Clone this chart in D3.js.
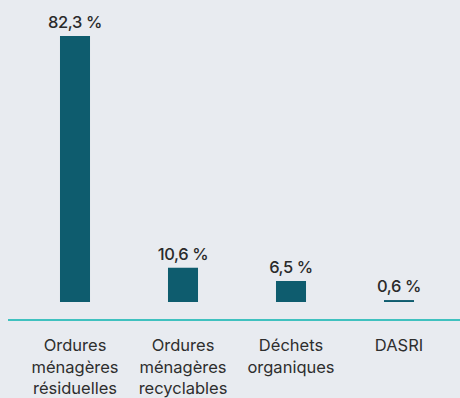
<!DOCTYPE html>
<html>
<head>
<meta charset="utf-8">
<script src="https://cdn.jsdelivr.net/npm/d3@7"></script>
<style>
  html, body { margin: 0; padding: 0; background: #e8ebf0; }
  svg { display: block; }
</style>
</head>
<body>
<svg id="chart" width="460" height="398"></svg>
<script>
// Waste categories (each label split into its display lines) and their shares in %
const categories = [
  ["Ordures", "ménagères", "résiduelles"],
  ["Ordures", "ménagères", "recyclables"],
  ["Déchets", "organiques"],
  ["DASRI"]
];
const shares = [82.3, 10.6, 6.5, 0.6];
const valueLabels = ["82,3 %", "10,6 %", "6,5 %", "0,6 %"];

const W = 460, H = 398;
const svg = d3.select("#chart");

svg.append("rect").attr("width", W).attr("height", H).attr("fill", "#e8ebf0");

const keys = categories.map((c, i) => i);
const x = d3.scaleBand()
  .domain(keys)
  .range([21, 453])
  .paddingInner(0.722)
  .paddingOuter(0.361);

const y = d3.scaleLinear()
  .domain([0, 82.3])
  .range([302, 36]);

// Bars
svg.append("g").selectAll("rect")
  .data(shares)
  .join("rect")
  .attr("x", (d, i) => x(i))
  .attr("y", d => y(d))
  .attr("width", x.bandwidth())
  .attr("height", d => y(0) - y(d))
  .attr("fill", "#0e5c6e");

// Value labels above the bars
svg.append("g").selectAll("text")
  .data(shares)
  .join("text")
  .attr("x", (d, i) => x(i) + x.bandwidth() / 2)
  .attr("y", d => y(d) - 8)
  .attr("text-anchor", "middle")
  .attr("font-family", "Inter, sans-serif")
  .attr("font-size", 16.5)
  .attr("font-weight", 500)
  .attr("letter-spacing", -0.4)
  .attr("fill", "#2a2a2a")
  .text((d, i) => valueLabels[i]);

// Baseline
svg.append("line")
  .attr("x1", 8).attr("x2", W)
  .attr("y1", 320).attr("y2", 320)
  .attr("stroke", "#3fc1bf")
  .attr("stroke-width", 2);

// Category labels (multi-line)
const cat = svg.append("g").selectAll("text")
  .data(categories)
  .join("text")
  .attr("x", (d, i) => x(i) + x.bandwidth() / 2)
  .attr("y", 351)
  .attr("text-anchor", "middle")
  .attr("font-family", "Inter, sans-serif")
  .attr("font-size", 16.5)
  .attr("font-weight", 400)
  .attr("fill", "#2e2e2e");

cat.selectAll("tspan")
  .data(d => d)
  .join("tspan")
  .attr("x", function () { return d3.select(this.parentNode).attr("x"); })
  .attr("dy", (d, j) => j === 0 ? 0 : 21.5)
  .text(d => d);
</script>
</body>
</html>
